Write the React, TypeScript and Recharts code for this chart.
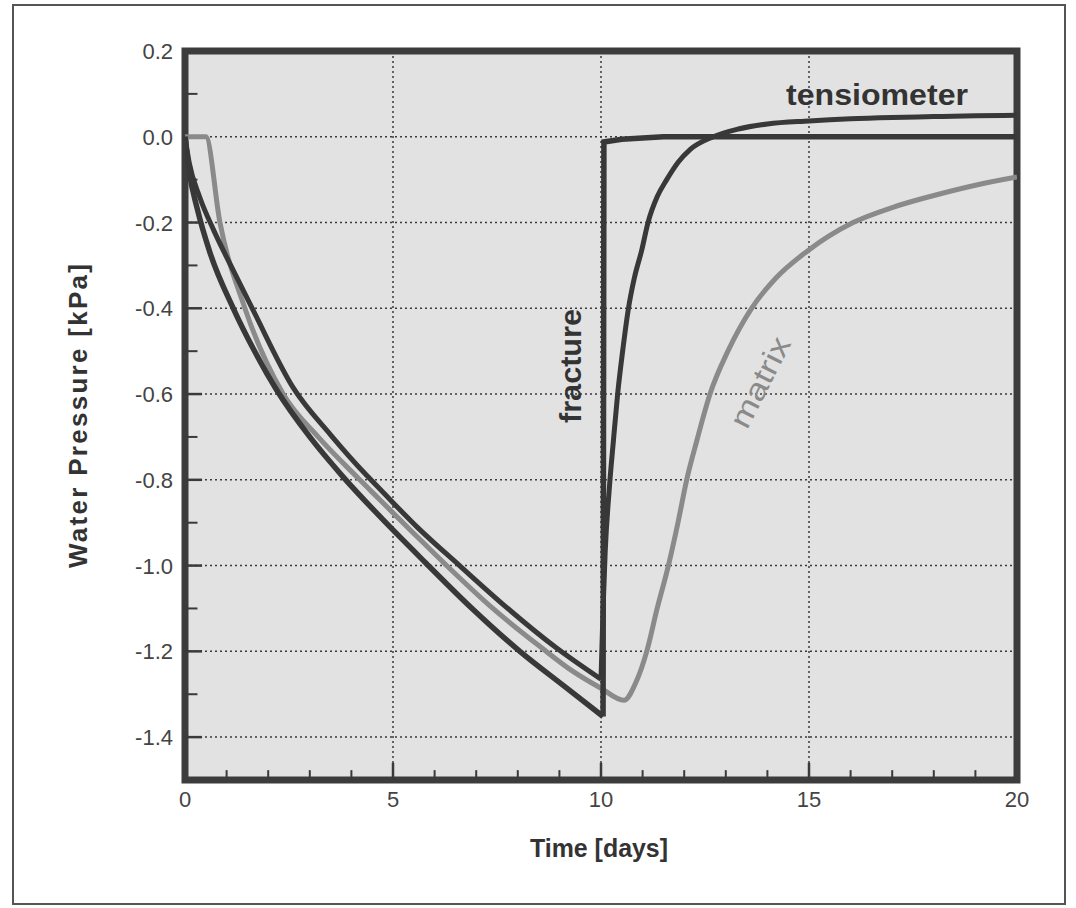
import React from "react";
import {
  CartesianGrid,
  Line,
  LineChart,
  ReferenceArea,
  ReferenceLine,
  XAxis,
  YAxis,
} from "recharts";

// time [days] / water pressure [kPa]
const fractureTime = [0, 0.1, 0.3, 0.6, 1.16, 1.7, 2.2, 3.0, 3.8, 4.69, 5.8, 6.9, 8.05, 9.1, 10.05, 10.07, 10.5, 11.5, 20];
const fracturePressure = [0, -0.08, -0.17, -0.27, -0.4, -0.505, -0.59, -0.7, -0.793, -0.886, -0.995, -1.1, -1.2, -1.28, -1.352, -0.012, -0.006, 0, 0];

const tensiometerTime = [
  0, 0.1, 0.35, 0.7, 1.1, 1.64, 2.6, 3.5, 4.37, 4.69, 5.6, 6.6, 7.7, 8.9, 10.0, 10.05, 10.1, 10.2, 10.3, 10.4,
  10.52, 10.66, 10.8, 10.98, 11.13, 11.35, 11.58, 11.85, 12.14, 12.7, 13.3, 14, 15, 16, 17, 18, 19, 20,
];
const tensiometerPressure = [
  0, -0.06, -0.14, -0.22, -0.3, -0.405, -0.585, -0.695, -0.79, -0.822, -0.912, -1.0, -1.095, -1.19, -1.265,
  -1.1, -0.97, -0.82, -0.707, -0.6, -0.5, -0.4, -0.33, -0.264, -0.2, -0.14, -0.1, -0.06, -0.03, 0, 0.018,
  0.03, 0.037, 0.042, 0.045, 0.047, 0.049, 0.05,
];

const matrixTime = [
  0, 0.5, 0.84, 1.44, 2.36, 3.2, 4.13, 4.69, 5.5, 6.29, 7.4, 8.55, 9.3, 10, 10.55, 10.85, 11.1, 11.35,
  11.62, 11.85, 12.06, 12.3, 12.62, 13.05, 13.62, 14.2, 14.94, 16.06, 17, 18, 19, 20,
];
const matrixPressure = [
  0, 0, -0.2, -0.4, -0.6, -0.7, -0.793, -0.847, -0.925, -1.0, -1.1, -1.19, -1.245, -1.286, -1.314, -1.27,
  -1.2, -1.1, -1.0, -0.9, -0.8, -0.71, -0.6, -0.5, -0.4, -0.33, -0.268, -0.2, -0.165, -0.137, -0.113, -0.094,
];

const xTicks = [0, 5, 10, 15, 20];
const xMinorTicks = [1, 2, 3, 4, 6, 7, 8, 9, 11, 12, 13, 14, 16, 17, 18, 19];
const yTicks = [0.2, 0, -0.2, -0.4, -0.6, -0.8, -1.0, -1.2, -1.4];
const yMinorTicks = [0.1, -0.1, -0.3, -0.5, -0.7, -0.9, -1.1, -1.3];

const toPoints = (t: number[], p: number[]) => t.map((time, i) => ({ t: time, p: p[i] }));

// split a curve at its lowest point so the drainage/rewetting corner stays sharp
const splitAtMin = (t: number[], p: number[]) => {
  const pts = toPoints(t, p);
  const k = p.indexOf(Math.min(...p));
  return [pts.slice(0, k + 1), pts.slice(k)];
};

const [fractureDown, fractureUp] = splitAtMin(fractureTime, fracturePressure);
const [tensioDown, tensioUp] = splitAtMin(tensiometerTime, tensiometerPressure);
const matrix = toPoints(matrixTime, matrixPressure);

const FONT = '"Liberation Sans", Arial, Helvetica, sans-serif';
const INK = "#3a3a3a";
const DARK = "#383838";

const XTick = ({ x, y, payload }: any) => (
  <text x={x} y={y + 27} textAnchor="middle" fontFamily={FONT} fontSize={22} fill="#444">
    {payload.value}
  </text>
);

const YTick = ({ x, y, payload }: any) => (
  <text x={x - 12} y={y + 8} textAnchor="end" fontFamily={FONT} fontSize={22} fill="#444">
    {Number(payload.value).toFixed(1)}
  </text>
);

// inward tick lengths, in axis units
const X_MAJOR = 0.04;
const X_MINOR = 0.023;
const Y_MAJOR = 0.41;
const Y_MINOR = 0.3;

export default function App() {
  return (
    <div style={{ position: "absolute", left: 0, top: 0, width: 1076, height: 908, background: "#fff" }}>
      <LineChart width={1076} height={908} margin={{ top: 51, right: 59, left: 125, bottom: 98 }}>
        <CartesianGrid
          fill="#e2e2e2"
          fillOpacity={1}
          stroke="#3a3a3a"
          strokeWidth={1.5}
          strokeDasharray="2 3"
        />
        <XAxis
          dataKey="t"
          type="number"
          domain={[0, 20]}
          ticks={xTicks}
          allowDataOverflow
          height={30}
          tickSize={0}
          tickMargin={0}
          tickLine={false}
          axisLine={false}
          tick={<XTick />}
        />
        <YAxis
          type="number"
          domain={[-1.5, 0.2]}
          ticks={yTicks}
          allowDataOverflow
          width={60}
          tickSize={0}
          tickMargin={0}
          tickLine={false}
          axisLine={false}
          tick={<YTick />}
        />

        {xTicks.slice(1, -1).map((v) => (
          <ReferenceLine key={`xM${v}`} segment={[{ x: v, y: -1.5 }, { x: v, y: -1.5 + X_MAJOR }]} stroke={INK} strokeWidth={2.5} />
        ))}
        {xMinorTicks.map((v) => (
          <ReferenceLine key={`xm${v}`} segment={[{ x: v, y: -1.5 }, { x: v, y: -1.5 + X_MINOR }]} stroke={INK} strokeWidth={2} />
        ))}
        {yTicks.slice(1).map((v) => (
          <ReferenceLine key={`yM${v}`} segment={[{ x: 0, y: v }, { x: Y_MAJOR, y: v }]} stroke={INK} strokeWidth={2.5} />
        ))}
        {yMinorTicks.map((v) => (
          <ReferenceLine key={`ym${v}`} segment={[{ x: 0, y: v }, { x: Y_MINOR, y: v }]} stroke={INK} strokeWidth={2} />
        ))}

        <Line data={matrix} dataKey="p" type="monotone" stroke="#8a8a8a" strokeWidth={5} dot={false} activeDot={false} isAnimationActive={false} />
        <Line data={tensioDown} dataKey="p" type="monotone" stroke={DARK} strokeWidth={5} dot={false} activeDot={false} isAnimationActive={false} />
        <Line data={tensioUp} dataKey="p" type="monotone" stroke={DARK} strokeWidth={5} dot={false} activeDot={false} isAnimationActive={false} />
        <Line data={fractureDown} dataKey="p" type="monotone" stroke={DARK} strokeWidth={5.5} dot={false} activeDot={false} isAnimationActive={false} />
        <Line data={fractureUp} dataKey="p" type="linear" stroke={DARK} strokeWidth={5.5} dot={false} activeDot={false} isAnimationActive={false} />

        <ReferenceArea x1={0} x2={20} y1={-1.5} y2={0.2} fill="none" stroke="#3c3c3c" strokeWidth={7} ifOverflow="visible" />
      </LineChart>

      <svg
        width={1076}
        height={908}
        style={{ position: "absolute", left: 0, top: 0, pointerEvents: "none" }}
      >
        <rect x={13} y={5} width={1052} height={899} fill="none" stroke="#555" strokeWidth={2} />
        <text
          x={599}
          y={857}
          textAnchor="middle"
          fontFamily={FONT}
          fontSize={25}
          fontWeight="bold"
          fill="#333"
          textLength={138}
          lengthAdjust="spacingAndGlyphs"
        >
          Time [days]
        </text>
        <text
          x={87}
          y={416}
          transform="rotate(-90, 87, 416)"
          textAnchor="middle"
          fontFamily={FONT}
          fontSize={26}
          fontWeight="bold"
          fill="#333"
          textLength={304}
          lengthAdjust="spacing"
        >
          Water Pressure [kPa]
        </text>
        <text
          x={877}
          y={94}
          textAnchor="middle"
          dominantBaseline="central"
          fontFamily={FONT}
          fontSize={30}
          fontWeight="bold"
          fill="#333"
          textLength={182}
          lengthAdjust="spacingAndGlyphs"
        >
          tensiometer
        </text>
        <text
          x={570}
          y={366}
          transform="rotate(-90, 570, 366)"
          textAnchor="middle"
          dominantBaseline="central"
          fontFamily={FONT}
          fontSize={30}
          fontWeight="bold"
          fill="#333"
          textLength={114}
          lengthAdjust="spacingAndGlyphs"
        >
          fracture
        </text>
        <text
          x={760}
          y={382}
          transform="rotate(-63, 760, 382)"
          textAnchor="middle"
          dominantBaseline="central"
          fontFamily={FONT}
          fontSize={30}
          fill="#8a8a8a"
          textLength={98}
          lengthAdjust="spacingAndGlyphs"
        >
          matrix
        </text>
      </svg>
    </div>
  );
}
